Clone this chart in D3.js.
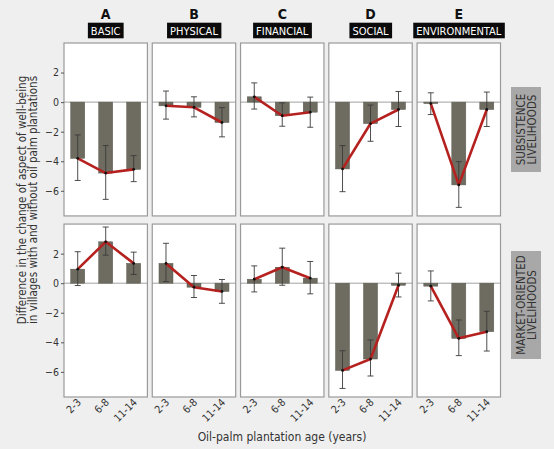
<!DOCTYPE html>
<html>
<head>
<meta charset="utf-8">
<script src="https://cdn.jsdelivr.net/npm/d3@7"></script>
<style>
  html, body { margin: 0; padding: 0; background: #efefef; }
  svg { display: block; }
  text { font-family: "Liberation Sans Narrow", "DejaVu Sans Condensed", "Liberation Sans", sans-serif; }
</style>
</head>
<body>
<script>
// Facets and categories
const letters = ["A", "B", "C", "D", "E"];
const aspects = ["BASIC", "PHYSICAL", "FINANCIAL", "SOCIAL", "ENVIRONMENTAL"];
const rows = ["SUBSISTENCE\nLIVELIHOODS", "MARKET-ORIENTED\nLIVELIHOODS"];
const ages = ["2-3", "6-8", "11-14"];
const yTicks = [2, 0, -2, -4, -6];

// Mean difference per row, per aspect, per age class
const subsistMean = [
  [-3.8, -4.8, -4.55],
  [-0.25, -0.35, -1.38],
  [0.36, -0.92, -0.68],
  [-4.52, -1.45, -0.5],
  [-0.1, -5.6, -0.5]
];
const subsistLow = [
  [-5.3, -6.58, -5.38],
  [-1.15, -1.0, -2.35],
  [-0.47, -1.63, -1.7],
  [-6.06, -2.65, -1.65],
  [-0.84, -7.12, -1.65]
];
const subsistHigh = [
  [-2.22, -2.94, -3.62],
  [0.75, 0.36, -0.37],
  [1.3, -0.05, 0.34],
  [-2.94, -0.2, 0.72],
  [0.63, -4.03, 0.68]
];
const marketMean = [
  [0.95, 2.8, 1.34],
  [1.34, -0.27, -0.56],
  [0.27, 1.08, 0.34],
  [-5.9, -5.13, -0.14],
  [-0.2, -3.73, -3.28]
];
const marketLow = [
  [-0.16, 1.9, 0.59],
  [0.11, -0.97, -1.36],
  [-0.59, -0.14, -0.72],
  [-7.12, -6.28, -0.93],
  [-1.2, -4.9, -4.59]
];
const marketHigh = [
  [2.13, 3.8, 2.1],
  [2.7, 0.52, 0.25],
  [1.17, 2.37, 1.47],
  [-4.57, -3.84, 0.68],
  [0.83, -2.49, -1.9]
];

const means = [subsistMean, marketMean];
const lows = [subsistLow, marketLow];
const highs = [subsistHigh, marketHigh];

const width = 554;
const height = 449;

const svg = d3.select("body").append("svg")
    .attr("width", width)
    .attr("height", height)
    .attr("viewBox", [0, 0, width, height]);

// Facet layout
const fx = d3.scaleBand().domain(d3.range(letters.length)).range([64, 500.5]).paddingInner(0.055);
const fy = d3.scaleBand().domain(d3.range(rows.length)).range([43, 397]).paddingInner(0.045);

// Inner scales
const x = d3.scaleBand().domain(ages).range([0, fx.bandwidth()]).paddingInner(0.5).paddingOuter(0.24);
const y = d3.scaleLinear().domain([-7.7, 4]).range([fy.bandwidth(), 0]);

const line = d3.line()
    .x((d, i) => x(ages[i]) + x.bandwidth() / 2)
    .y(d => y(d));

// Column headers
letters.forEach((l, c) => {
  const cx = fx(c) + fx.bandwidth() / 2;
  svg.append("text")
      .attr("x", cx)
      .attr("y", 19)
      .attr("text-anchor", "middle")
      .attr("font-size", 14)
      .attr("font-weight", "bold")
      .attr("fill", "#111")
      .text(l);
  const t = svg.append("text")
      .attr("x", cx)
      .attr("y", 34.5)
      .attr("text-anchor", "middle")
      .attr("font-size", 11)
      .attr("fill", "white")
      .text(aspects[c]);
  const bb = t.node().getBBox();
  svg.insert("rect", "text:last-of-type")
      .attr("x", bb.x - 3)
      .attr("y", 22.7)
      .attr("width", bb.width + 6)
      .attr("height", 15.6)
      .attr("fill", "#0a0a0a");
});

// Panels
rows.forEach((r, ri) => {
  letters.forEach((l, c) => {
    const g = svg.append("g").attr("transform", `translate(${fx(c)},${fy(ri)})`);
    const mean = means[ri][c];
    const lo = lows[ri][c];
    const hi = highs[ri][c];

    g.append("rect")
        .attr("width", fx.bandwidth())
        .attr("height", fy.bandwidth())
        .attr("fill", "white")
        .attr("stroke", "#9a9a9a")
        .attr("stroke-width", 1.2);

    g.append("line")
        .attr("x1", 0).attr("x2", fx.bandwidth())
        .attr("y1", y(0)).attr("y2", y(0))
        .attr("stroke", "#8a8a8a")
        .attr("stroke-width", 0.8);

    g.selectAll("rect.bar")
      .data(mean)
      .join("rect")
        .attr("class", "bar")
        .attr("x", (d, i) => x(ages[i]))
        .attr("y", d => y(Math.max(0, d)))
        .attr("width", x.bandwidth())
        .attr("height", d => Math.abs(y(d) - y(0)))
        .attr("fill", "#6e6c60")
        .attr("stroke", "#5a594f")
        .attr("stroke-width", 0.5);

    // Error bars
    const eb = g.append("g").attr("stroke", "#3a3a3a").attr("stroke-width", 0.9);
    ages.forEach((a, i) => {
      const cx = x(a) + x.bandwidth() / 2;
      eb.append("line").attr("x1", cx).attr("x2", cx).attr("y1", y(lo[i])).attr("y2", y(hi[i]));
      eb.append("line").attr("x1", cx - 3).attr("x2", cx + 3).attr("y1", y(lo[i])).attr("y2", y(lo[i]));
      eb.append("line").attr("x1", cx - 3).attr("x2", cx + 3).attr("y1", y(hi[i])).attr("y2", y(hi[i]));
    });

    g.append("path")
        .datum(mean)
        .attr("fill", "none")
        .attr("stroke", "#b5211f")
        .attr("stroke-width", 2.6)
        .attr("stroke-linejoin", "round")
        .attr("d", line);

    g.selectAll("circle")
      .data(mean)
      .join("circle")
        .attr("cx", (d, i) => x(ages[i]) + x.bandwidth() / 2)
        .attr("cy", d => y(d))
        .attr("r", 1.4)
        .attr("fill", "#111");

    // Y axis on first column
    if (c === 0) {
      g.append("g")
          .call(d3.axisLeft(y).tickValues(yTicks).tickSize(3).tickPadding(2))
          .call(a => a.select(".domain").remove())
          .call(a => a.selectAll(".tick line").attr("stroke", "#555"))
          .call(a => a.selectAll(".tick text")
              .attr("font-size", 10.5)
              .attr("fill", "#333")
              .attr("font-family", "'Liberation Sans Narrow', 'DejaVu Sans Condensed', sans-serif"));
    }

    // X tick labels on bottom row
    if (ri === rows.length - 1) {
      g.selectAll("text.age")
        .data(ages)
        .join("text")
          .attr("class", "age")
          .attr("text-anchor", "end")
          .attr("font-size", 10.5)
          .attr("fill", "#333")
          .attr("transform", d => `translate(${x(d) + x.bandwidth() / 2 + 4},${fy.bandwidth() + 6}) rotate(-45)`)
          .text(d => d);
    }
  });

  // Row strips
  const sy = ri === 0 ? [87, 172] : [251, 359];
  svg.append("rect")
      .attr("x", 511)
      .attr("y", sy[0])
      .attr("width", 30)
      .attr("height", sy[1] - sy[0])
      .attr("fill", "#a8a8a8");
  const lines = r.split("\n");
  const cyS = (sy[0] + sy[1]) / 2;
  const st = svg.append("text")
      .attr("transform", `translate(526,${cyS}) rotate(-90)`)
      .attr("text-anchor", "middle")
      .attr("font-size", 11.5)
      .attr("fill", "#333");
  lines.forEach((s, k) => {
    st.append("tspan")
        .attr("x", 0)
        .attr("y", k === 0 ? -1 : 9.5)
        .text(s);
  });
});

// Y title
const yt = svg.append("text")
    .attr("transform", "translate(28,200) rotate(-90)")
    .attr("text-anchor", "middle")
    .attr("font-size", 11.5)
    .attr("fill", "#333");
yt.append("tspan").attr("x", 0).attr("y", -2).text("Difference in the change of aspect of well-being");
yt.append("tspan").attr("x", 0).attr("y", 9).text("in villages with and without oil palm plantations");

// X title
svg.append("text")
    .attr("x", 282)
    .attr("y", 441)
    .attr("text-anchor", "middle")
    .attr("font-size", 12)
    .attr("fill", "#333")
    .text("Oil-palm plantation age (years)");
</script>
</body>
</html>
